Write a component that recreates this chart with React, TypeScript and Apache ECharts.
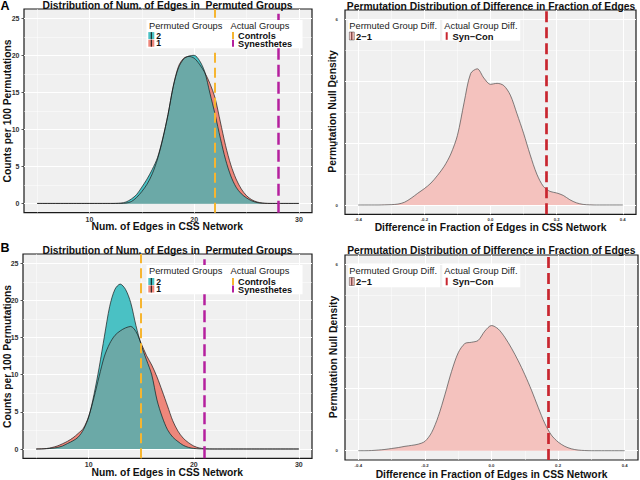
import React, { useEffect, useRef } from "react";
import * as echarts from "echarts";

// ---------- data ----------
const edgeX = [5, 5.5, 6, 6.5, 7, 7.5, 8, 8.5, 9, 9.5, 10, 10.5, 11, 11.5, 12, 12.5, 13, 13.5, 14, 14.5, 15, 15.5, 16, 16.5, 17, 17.5, 18, 18.5, 19, 19.5, 20, 20.5, 21, 21.5, 22, 22.5, 23, 23.5, 24, 24.5, 25, 25.5, 26, 26.5, 27, 27.5, 28, 28.5, 29, 29.5, 30];

const aGroup2 = [0, 0, 0, 0, 0, 0, 0, 0, 0, 0, 0, 0, 0, 0, 0, 0.01, 0.05, 0.2, 0.6, 1.2, 2.2, 3.3, 4.6, 6.2, 8.8, 12.0, 15.8, 18.3, 19.5, 19.9, 20.0, 19.3, 17.8, 14.9, 12.0, 8.8, 5.9, 3.7, 2.2, 1.3, 0.75, 0.35, 0.12, 0.03, 0, 0, 0, 0, 0, 0, 0];
const aGroup1 = [0, 0, 0, 0, 0, 0, 0, 0, 0, 0, 0, 0, 0, 0, 0, 0, 0, 0.05, 0.25, 0.8, 1.6, 2.6, 4.0, 6.0, 8.7, 12.0, 15.8, 18.5, 19.6, 19.85, 19.6, 18.8, 17.7, 16.2, 14.2, 11.0, 7.8, 5.2, 3.3, 1.95, 1.05, 0.5, 0.2, 0.06, 0.01, 0, 0, 0, 0, 0, 0];

const bGroup2 = [0, 0.01, 0.04, 0.1, 0.2, 0.4, 0.75, 1.1, 1.6, 2.6, 4.3, 7.3, 11.0, 15.2, 19.2, 21.5, 22.2, 21.5, 19.7, 16.6, 14.0, 12.0, 10.0, 6.6, 4.3, 2.6, 1.6, 1.0, 0.5, 0.22, 0.08, 0.02, 0, 0, 0, 0, 0, 0, 0, 0, 0, 0, 0, 0, 0, 0, 0, 0, 0, 0, 0];
const bGroup1 = [0, 0.02, 0.07, 0.2, 0.4, 0.7, 1.05, 1.5, 2.1, 2.8, 4.4, 6.9, 9.8, 12.5, 14.2, 15.3, 15.9, 16.3, 16.5, 15.8, 14.2, 12.6, 11.3, 9.7, 7.8, 5.8, 3.8, 2.4, 1.45, 0.85, 0.4, 0.15, 0.05, 0.01, 0, 0, 0, 0, 0, 0, 0, 0, 0, 0, 0, 0, 0, 0, 0, 0, 0];

const diffX = [-0.4, -0.38, -0.36, -0.34, -0.32, -0.3, -0.28, -0.26, -0.24, -0.22, -0.2, -0.18, -0.16, -0.14, -0.12, -0.1, -0.08, -0.06, -0.04, -0.02, 0, 0.02, 0.04, 0.06, 0.08, 0.1, 0.12, 0.14, 0.16, 0.18, 0.2, 0.22, 0.24, 0.26, 0.28, 0.3, 0.32, 0.34, 0.36, 0.38, 0.4];
const aDiff = [0, 0, 0, 0, 0.005, 0.012, 0.03, 0.09, 0.22, 0.38, 0.53, 0.71, 0.96, 1.25, 1.65, 2.25, 3.3, 4.25, 4.4, 4.1, 3.9, 3.93, 3.86, 3.55, 2.95, 2.32, 1.62, 1.0, 0.6, 0.44, 0.39, 0.31, 0.17, 0.07, 0.02, 0.005, 0, 0, 0, 0, 0];
const bDiff = [0, 0, 0.005, 0.02, 0.04, 0.07, 0.1, 0.14, 0.17, 0.21, 0.3, 0.58, 1.1, 1.8, 2.55, 3.15, 3.45, 3.49, 3.55, 3.85, 4.03, 3.92, 3.65, 3.3, 2.9, 2.45, 1.95, 1.4, 0.88, 0.5, 0.28, 0.14, 0.06, 0.02, 0.005, 0, 0, 0, 0, 0, 0];

const aControls = 22;
const aSynesthetes = 28;
const bControls = 15;
const bSynesthetes = 21;
const aSynCon = 0.168;
const bSynCon = 0.167;

const edgeTicksX = [10, 20, 30];
const edgeMinorX = [5, 15, 25];
const edgeTicksY = [0, 5, 10, 15, 20, 25];
const edgeMinorY = [2.5, 7.5, 12.5, 17.5, 22.5];
const diffTicksX = [-0.4, -0.2, 0, 0.2, 0.4];
const diffMinorX = [-0.3, -0.1, 0.1, 0.3];
const diffTicksY = [0, 2, 4, 6];
const diffMinorY = [1, 3, 5];

// ---------- styling ----------
const FONT = "'Liberation Sans', Arial, Helvetica, sans-serif";
const PINK = "#EE877B";
const TEAL = "#4AC1C4";
const OVER = "#6BA9A7";
const DIFF_FILL = "#F4C2BE";
const ORANGE = "#F6B530";
const MAGENTA = "#B5209E";
const RED = "#C8262F";
const BG = "#F0F0F0";
const TICK_TXT = "#333333";

const pairs = (xs: number[], ys: number[]) => xs.map((x, i) => [x, ys[i]]);
const noLabel = { show: false };

function gridLines(idx: number, majX: number[], minX: number[], majY: number[], minY: number[]) {
  const ls = (w: number) => ({ color: "#ffffff", width: w, type: "solid" });
  return {
    type: "line",
    xAxisIndex: idx,
    yAxisIndex: idx,
    data: [],
    symbol: "none",
    silent: true,
    color: "#ffffff",
    z: 1,
    markLine: {
      silent: true,
      symbol: ["none", "none"],
      label: noLabel,
      z: 1,
      data: [
        ...minX.map((v) => ({ xAxis: v, lineStyle: ls(0.5) })),
        ...minY.map((v) => ({ yAxis: v, lineStyle: ls(0.5) })),
        ...majX.map((v) => ({ xAxis: v, lineStyle: ls(1) })),
        ...majY.map((v) => ({ yAxis: v, lineStyle: ls(1) })),
      ],
    },
  };
}

function vlines(idx: number, items: { v: number; color: string; dash: number[]; w: number }[]) {
  return {
    type: "line",
    xAxisIndex: idx,
    yAxisIndex: idx,
    data: [],
    symbol: "none",
    silent: true,
    color: items[0].color,
    z: 8,
    markLine: {
      silent: true,
      symbol: ["none", "none"],
      label: noLabel,
      z: 8,
      data: items.map((it) => ({
        xAxis: it.v,
        lineStyle: { color: it.color, width: it.w, type: it.dash },
      })),
    },
  };
}

function area(idx: number, data: number[][], color: string, z: number) {
  return {
    type: "line",
    xAxisIndex: idx,
    yAxisIndex: idx,
    data,
    smooth: 0.3,
    symbol: "none",
    silent: true,
    color,
    z,
    lineStyle: { width: 0, opacity: 0 },
    areaStyle: { color, opacity: 1 },
  };
}

function outline(idx: number, data: number[][], color: string, w: number) {
  return {
    type: "line",
    xAxisIndex: idx,
    yAxisIndex: idx,
    data,
    smooth: 0.3,
    symbol: "none",
    silent: true,
    color,
    z: 6,
    lineStyle: { width: w, color },
  };
}

function edgePanelSeries(idx: number, g1: number[], g2: number[], ctrl: number, syn: number) {
  const over = g1.map((v, i) => Math.min(v, g2[i]));
  return [
    gridLines(idx, edgeTicksX, edgeMinorX, edgeTicksY, edgeMinorY),
    area(idx, pairs(edgeX, g1), PINK, 2),
    area(idx, pairs(edgeX, g2), TEAL, 3),
    area(idx, pairs(edgeX, over), OVER, 4),
    outline(idx, pairs(edgeX, g1), "#1a1a1a", 0.7),
    outline(idx, pairs(edgeX, g2), "#1a1a1a", 0.7),
    vlines(idx, [
      { v: ctrl, color: ORANGE, dash: [10, 5], w: 2 },
      { v: syn, color: MAGENTA, dash: [12, 5], w: 2.5 },
    ]),
  ];
}

function diffPanelSeries(idx: number, d: number[], synCon: number) {
  return [
    gridLines(idx, diffTicksX, diffMinorX, diffTicksY, diffMinorY),
    area(idx, pairs(diffX, d), DIFF_FILL, 2),
    outline(idx, pairs(diffX, d), "#4d4d4d", 0.7),
    vlines(idx, [{ v: synCon, color: RED, dash: [11, 5], w: 2.7 }]),
  ];
}

const tickStyle = { lineStyle: { color: "#333", width: 0.8 } };

function xAxisCfg(idx: number, min: number, max: number, ticks: number[], fs: number, fmt?: (v: number) => string) {
  return {
    type: "value",
    gridIndex: idx,
    min,
    max,
    axisLine: { show: false },
    splitLine: { show: false },
    axisTick: { show: true, customValues: ticks, length: 2.5, ...tickStyle },
    axisLabel: {
      customValues: ticks,
      margin: 3,
      fontSize: fs,
      fontWeight: "bold",
      color: () => TICK_TXT,
      hideOverlap: false,
      fontFamily: FONT,
      formatter: fmt ? fmt : (v: number) => String(v),
    },
  };
}

function yAxisCfg(idx: number, min: number, max: number, ticks: number[], fs: number, margin: number) {
  return {
    type: "value",
    gridIndex: idx,
    min,
    max,
    axisLine: { show: false },
    splitLine: { show: false },
    axisTick: { show: true, customValues: ticks, length: 2.5, ...tickStyle },
    axisLabel: {
      customValues: ticks,
      margin,
      fontSize: fs,
      fontWeight: "bold",
      color: TICK_TXT,
      fontFamily: FONT,
    },
  };
}

function txt(text: string, x: number, y: number, size: number, opts: any = {}) {
  return {
    type: "text",
    x,
    y,
    rotation: opts.rotation || 0,
    z: 20,
    silent: true,
    style: {
      text,
      fill: opts.fill || "#111",
      fontSize: size,
      fontWeight: opts.weight || "bold",
      fontFamily: FONT,
      align: opts.align || "center",
      verticalAlign: "middle",
    },
  };
}

function rect(x: number, y: number, w: number, h: number, fill: string, stroke?: string) {
  return {
    type: "rect",
    z: 19,
    silent: true,
    shape: { x, y, width: w, height: h },
    style: { fill, stroke: stroke || null, lineWidth: stroke ? 0.5 : 0 },
  };
}

function vseg(x: number, y1: number, y2: number, color: string, w: number) {
  return {
    type: "line",
    z: 21,
    silent: true,
    shape: { x1: x, y1, x2: x, y2 },
    style: { stroke: color, lineWidth: w },
  };
}

function edgeLegend(top: number, r1: number, r2: number, bottom: number) {
  return [
    rect(146.5, top, 156, bottom - top, "#ffffff"),
    txt("Permuted Groups", 149, top + 6, 9.3, { weight: "normal", align: "left", fill: "#222" }),
    txt("Actual Groups", 230.5, top + 6, 9.3, { weight: "normal", align: "left", fill: "#222" }),
    rect(148.3, r1 - 3.5, 6, 7, TEAL),
    vseg(151.3, r1 - 3.5, r1 + 3.5, "#111", 1),
    rect(148.3, r2 - 3.5, 6, 7, PINK),
    vseg(151.3, r2 - 3.5, r2 + 3.5, "#111", 1),
    txt("2", 156.3, r1, 8.6, { align: "left" }),
    txt("1", 156.3, r2, 8.6, { align: "left" }),
    vseg(233, r1 - 3.5, r1 + 3.5, ORANGE, 2),
    vseg(233, r2 - 3.5, r2 + 3.5, MAGENTA, 2),
    txt("Controls", 238, r1 + 0.3, 9.2, { align: "left" }),
    txt("Synesthetes", 238, r2 + 0.9, 9.2, { align: "left" }),
  ];
}

function diffLegend(top: number, titleY: number, rowY: number, bottom: number) {
  return [
    rect(348.3, top, 91.7, bottom - top, "#ffffff"),
    rect(442.3, top, 78, bottom - top, "#ffffff"),
    txt("Permuted Group Diff.", 349.3, titleY, 9.3, { weight: "normal", align: "left", fill: "#222" }),
    txt("Actual Group Diff.", 444.3, titleY, 9.3, { weight: "normal", align: "left", fill: "#222" }),
    rect(349.3, rowY - 4, 5, 8, DIFF_FILL, "#444"),
    vseg(351.8, rowY - 4, rowY + 4, "#5a1a1a", 1),
    txt("2\u22121", 356, rowY, 9.4, { align: "left" }),
    vseg(446.7, rowY - 3.8, rowY + 3.8, RED, 2),
    txt("Syn\u2212Con", 452.5, rowY, 9.4, { align: "left" }),
  ];
}

export default function App() {
  const ref = useRef<HTMLDivElement>(null);
  useEffect(() => {
    if (!ref.current) return;
    const chart = echarts.init(ref.current, null, { renderer: "svg" });
    const gridBase = { show: true, backgroundColor: BG, borderColor: "#1a1a1a", borderWidth: 1.2, containLabel: false };
    const option: any = {
      animation: false,
      backgroundColor: "#ffffff",
      color: ["#333333"],
      textStyle: { color: TICK_TXT, fontFamily: FONT },
      grid: [
        { ...gridBase, left: 24, top: 9, width: 288, height: 203.7 },
        { ...gridBase, left: 345, top: 10, width: 291, height: 204.3 },
        { ...gridBase, left: 23, top: 254, width: 289, height: 204.3 },
        { ...gridBase, left: 345, top: 255, width: 293, height: 205 },
      ],
      xAxis: [
        xAxisCfg(0, 3.75, 31.25, edgeTicksX, 7),
        xAxisCfg(1, -0.44, 0.44, diffTicksX, 4.3, (v: number) => v.toFixed(1)),
        xAxisCfg(2, 3.75, 31.25, edgeTicksX, 7),
        xAxisCfg(3, -0.44, 0.44, diffTicksX, 4.3, (v: number) => v.toFixed(1)),
      ],
      yAxis: [
        yAxisCfg(0, -1.25, 26.25, edgeTicksY, 7, 4.5),
        yAxisCfg(1, -0.3, 6.3, diffTicksY, 4.3, 7),
        yAxisCfg(2, -1.25, 26.25, edgeTicksY, 7, 4.5),
        yAxisCfg(3, -0.3, 6.3, diffTicksY, 4.3, 7),
      ],
      series: [
        ...edgePanelSeries(0, aGroup1, aGroup2, aControls, aSynesthetes),
        ...diffPanelSeries(1, aDiff, aSynCon),
        ...edgePanelSeries(2, bGroup1, bGroup2, bControls, bSynesthetes),
        ...diffPanelSeries(3, bDiff, bSynCon),
      ],
      graphic: [
        txt("A", 5, 5.5, 12.5, { fill: "#000" }),
        txt("B", 5, 247.5, 12.5, { fill: "#000" }),
        txt("Distribution of Num. of Edges in  Permuted Groups", 167.5, 5.5, 10.3),
        txt("Distribution of Num. of Edges in  Permuted Groups", 167.5, 250, 10.3),
        txt("Permutation Distribution of Difference in Fraction of Edges", 491, 6, 10.3),
        txt("Permutation Distribution of Difference in Fraction of Edges", 491.3, 250.7, 10.3),
        txt("Num. of Edges in CSS Network", 167.3, 226.7, 10.3),
        txt("Num. of Edges in CSS Network", 167.3, 472.7, 10.3),
        txt("Difference in Fraction of Edges in CSS Network", 490.5, 227.7, 10.3),
        txt("Difference in Fraction of Edges in CSS Network", 491.5, 474, 10.3),
        txt("Counts per 100 Permutations", 7.5, 111, 10.3, { rotation: Math.PI / 2 }),
        txt("Counts per 100 Permutations", 7, 356.5, 10.3, { rotation: Math.PI / 2 }),
        txt("Permutation Null Density", 332.5, 111.5, 10.3, { rotation: Math.PI / 2 }),
        txt("Permutation Null Density", 333, 357, 10.3, { rotation: Math.PI / 2 }),
        ...edgeLegend(20, 35.6, 43.2, 48.3),
        ...edgeLegend(265, 281.5, 289, 294.3),
        ...diffLegend(20, 25.7, 36, 40.7),
        ...diffLegend(263.5, 270.7, 281.5, 287.3),
      ],
    };
    chart.setOption(option);
    return () => chart.dispose();
  }, []);
  return (
    <div
      ref={ref}
      style={{ position: "absolute", left: 0, top: 0, width: 640, height: 480 }}
    />
  );
}
